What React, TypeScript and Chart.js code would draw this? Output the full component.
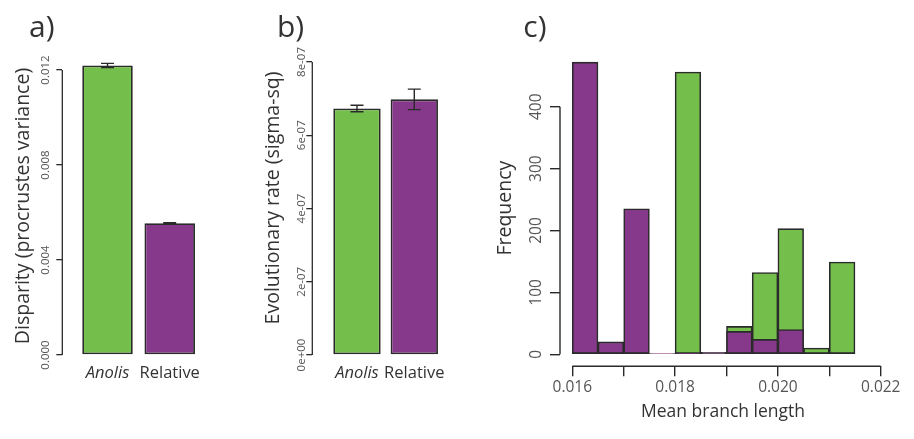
import React, { useEffect, useRef } from "react";
import { Chart, registerables } from "chart.js";

Chart.register(...registerables);

const FONT = "'Open Sans', 'Noto Sans', sans-serif";
const GREEN = "#74BE4B";
const PURPLE = "#86398A";
const EDGE = "#2a2a2a";
const TEXT = "#333333";
const TICKTEXT = "#555555";

// ---- Panel a: disparity ----
const groupLabels = ["Anolis", "Relative"];
const disparityMeans = [0.01219, 0.00555];
const disparityErrors = [0.00009, 0.00002];
const disparityTicks = [0, 0.004, 0.008, 0.012];
const disparityTickLabels = ["0.000", "0.004", "0.008", "0.012"];

// ---- Panel b: evolutionary rate ----
const rateMeans = [6.73e-7, 6.98e-7];
const rateErrors = [0.09e-7, 0.28e-7];
const rateTicks = [0, 2e-7, 4e-7, 6e-7, 8e-7];
const rateTickLabels = ["0e+00", "2e-07", "4e-07", "6e-07", "8e-07"];

// ---- Panel c: histogram of mean branch length ----
const binStarts = [0.016, 0.0165, 0.017, 0.0175, 0.018, 0.0185, 0.019, 0.0195, 0.02, 0.0205, 0.021];
const binWidth = 0.0005;
const anolisCounts = [0, 0, 0, 0, 456, 0, 45, 132, 203, 10, 149];
const relativeCounts = [472, 20, 235, 1, 1, 3, 37, 24, 40, 0, 0];
const freqTicks = [0, 100, 200, 300, 400];
const freqTickLabels = ["0", "100", "200", "300", "400"];
const branchTicks = [0.016, 0.017, 0.018, 0.019, 0.02, 0.021, 0.022];
const branchTickLabels = ["0.016", "", "0.018", "", "0.020", "", "0.022"];

function textWidth(text: string, font: string) {
  const c = document.createElement("canvas").getContext("2d")!;
  c.font = font;
  return c.measureText(text).width;
}

function widest(labels: string[], size: number) {
  return Math.max(...labels.map((l) => textWidth(l, `${size}px ${FONT}`)));
}

const rAxisPlugin = {
  id: "rAxis",
  afterDraw(chart: any, _args: any, opts: any) {
    const ctx = chart.ctx;
    ctx.save();
    ctx.strokeStyle = EDGE;
    ctx.lineWidth = opts.lineWidth || 1.2;
    (opts.axes || []).forEach((id: string) => {
      const s = chart.scales[id];
      const t = s.ticks;
      if (!t.length) return;
      const p0 = s.getPixelForValue(t[0].value);
      const p1 = s.getPixelForValue(t[t.length - 1].value);
      ctx.beginPath();
      if (s.isHorizontal()) {
        ctx.moveTo(p0, s.top);
        ctx.lineTo(p1, s.top);
      } else {
        ctx.moveTo(s.right, p0);
        ctx.lineTo(s.right, p1);
      }
      ctx.stroke();
    });
    if (opts.label) {
      ctx.fillStyle = TEXT;
      ctx.font = `30px ${FONT}`;
      ctx.textAlign = "left";
      ctx.textBaseline = "alphabetic";
      ctx.fillText(opts.label, opts.labelX, opts.labelY);
    }
    ctx.restore();
  },
};

const errorBarPlugin = {
  id: "errorBars",
  afterDatasetsDraw(chart: any, _args: any, opts: any) {
    const ctx = chart.ctx;
    const y = chart.scales.y;
    const meta = chart.getDatasetMeta(0);
    const cap = opts.cap || 13;
    ctx.save();
    ctx.strokeStyle = EDGE;
    ctx.lineWidth = 1.4;
    meta.data.forEach((bar: any, i: number) => {
      const m = opts.means[i];
      const e = opts.errors[i];
      const x = bar.x;
      const yTop = y.getPixelForValue(m + e);
      const yBot = y.getPixelForValue(m - e);
      ctx.beginPath();
      ctx.moveTo(x, yTop);
      ctx.lineTo(x, yBot);
      ctx.moveTo(x - cap / 2, yTop);
      ctx.lineTo(x + cap / 2, yTop);
      ctx.moveTo(x - cap / 2, yBot);
      ctx.lineTo(x + cap / 2, yBot);
      ctx.stroke();
    });
    ctx.restore();
  },
};

type BarPanel = {
  means: number[];
  errors: number[];
  yTicks: number[];
  yTickLabels: string[];
  yMax: number;
  xMin: number;
  xMax: number;
  barPct: number;
  title: string;
  label: string;
  labelX: number;
  tickOffset: number;
  padRight: number;
  top: number;
};

function barConfig(p: BarPanel): any {
  const tickSize = 11.5;
  const tl = 6;
  const w = widest(p.yTickLabels, tickSize);
  return {
    type: "bar",
    data: {
      datasets: [
        {
          data: p.means.map((v, i) => ({ x: i, y: v })),
          backgroundColor: [GREEN, PURPLE],
          borderColor: EDGE,
          borderWidth: 1.8,
          borderSkipped: false,
          barPercentage: p.barPct,
          categoryPercentage: 1,
        },
      ],
    },
    options: {
      responsive: false,
      animation: false,
      layout: { padding: { left: 0, right: p.padRight, top: p.top, bottom: 0 } },
      plugins: {
        legend: { display: false },
        tooltip: { enabled: false },
        rAxis: { axes: ["y"], lineWidth: 1.3, label: p.label, labelX: p.labelX, labelY: 37 },
        errorBars: { means: p.means, errors: p.errors, cap: 13 },
      },
      scales: {
        x: {
          type: "linear",
          offset: false,
          min: p.xMin,
          max: p.xMax,
          grid: { display: false, offset: false, drawTicks: false, tickLength: 0 },
          border: { display: false },
          afterBuildTicks: (s: any) => {
            s.ticks = groupLabels.map((_, i) => ({ value: i }));
          },
          afterFit: (s: any) => {
            s.height = 84;
          },
          ticks: {
            autoSkip: false,
            maxRotation: 0,
            padding: 8,
            color: TEXT,
            font: (ctx: any) => ({
              family: FONT,
              size: 16.5,
              style: ctx.index === 0 ? "italic" : "normal",
            }),
            callback: (_v: any, i: number) => groupLabels[i],
          },
        },
        y: {
          type: "linear",
          min: 0,
          max: p.yMax,
          grid: { drawOnChartArea: false, drawTicks: true, tickLength: tl, color: EDGE, lineWidth: 1.3 },
          border: { display: false },
          afterBuildTicks: (s: any) => {
            s.ticks = p.yTicks.map((v) => ({ value: v }));
          },
          afterFit: (s: any) => {
            s.width = 62.3;
          },
          ticks: {
            autoSkip: false,
            minRotation: 90,
            maxRotation: 90,
            crossAlign: "center",
            padding: p.tickOffset - tl - w / 2,
            color: TICKTEXT,
            font: { family: FONT, size: tickSize },
            callback: (_v: any, i: number) => p.yTickLabels[i],
          },
          title: {
            display: true,
            text: p.title,
            color: TEXT,
            font: { family: FONT, size: 19.5 },
            padding: { top: 11.3, bottom: 0 },
          },
        },
      },
    },
    plugins: [rAxisPlugin, errorBarPlugin],
  };
}

function histConfig(): any {
  const tickSize = 15.5;
  const tl = 10;
  const w = widest(freqTickLabels, tickSize);
  const centers = binStarts.map((b) => b + binWidth / 2);
  return {
    type: "bar",
    data: {
      datasets: [
        {
          label: "Anolis",
          data: centers.map((c, i) => ({ x: c, y: anolisCounts[i] })),
          backgroundColor: GREEN,
          borderColor: EDGE,
          borderWidth: 1.6,
          borderSkipped: false,
          grouped: false,
          order: 2,
          barPercentage: 1,
          categoryPercentage: 1,
        },
        {
          label: "Relative",
          data: centers.map((c, i) => ({ x: c, y: relativeCounts[i] })),
          backgroundColor: PURPLE,
          borderColor: EDGE,
          borderWidth: 1.6,
          borderSkipped: false,
          grouped: false,
          order: 1,
          barPercentage: 1,
          categoryPercentage: 1,
        },
      ],
    },
    options: {
      responsive: false,
      animation: false,
      layout: { padding: { left: 0, right: 28, top: 50, bottom: 16.5 } },
      plugins: {
        legend: { display: false },
        tooltip: { enabled: false },
        rAxis: { axes: ["x", "y"], lineWidth: 1.4, label: "c)", labelX: 43.3, labelY: 37 },
      },
      scales: {
        x: {
          type: "linear",
          offset: false,
          min: 0.015761,
          max: 0.022103,
          grid: { drawOnChartArea: false, offset: false, drawTicks: true, tickLength: tl, color: EDGE, lineWidth: 1.4 },
          border: { display: false },
          afterBuildTicks: (s: any) => {
            s.ticks = branchTicks.map((v) => ({ value: v }));
          },
          afterFit: (s: any) => {
            s.height = 439 - 16.5 - 366.3;
          },
          ticks: {
            autoSkip: false,
            maxRotation: 0,
            padding: 2.4,
            color: TICKTEXT,
            font: { family: FONT, size: tickSize },
            callback: (_v: any, i: number) => branchTickLabels[i],
          },
          title: {
            display: true,
            text: "Mean branch length",
            color: TEXT,
            font: { family: FONT, size: 17.5 },
            padding: { top: 0, bottom: 0 },
          },
        },
        y: {
          type: "linear",
          min: -19.4,
          max: 491.6,
          grid: { drawOnChartArea: false, drawTicks: true, tickLength: tl, color: EDGE, lineWidth: 1.4 },
          border: { display: false },
          afterBuildTicks: (s: any) => {
            s.ticks = freqTicks.map((v) => ({ value: v }));
          },
          afterFit: (s: any) => {
            s.width = 80;
          },
          ticks: {
            autoSkip: false,
            minRotation: 90,
            maxRotation: 90,
            crossAlign: "center",
            padding: 23 - tl - w / 2,
            color: TICKTEXT,
            font: { family: FONT, size: tickSize },
            callback: (_v: any, i: number) => freqTickLabels[i],
          },
          title: {
            display: true,
            text: "Frequency",
            color: TEXT,
            font: { family: FONT, size: 19.5 },
            padding: { top: 13.3, bottom: 0 },
          },
        },
      },
    },
    plugins: [rAxisPlugin],
  };
}

function Panel({ width, left, config }: { width: number; left: number; config: () => any }) {
  const ref = useRef<HTMLCanvasElement | null>(null);
  useEffect(() => {
    if (!ref.current) return;
    const chart = new Chart(ref.current, config());
    return () => chart.destroy();
  }, []);
  return (
    <canvas
      ref={ref}
      width={width}
      height={439}
      style={{ position: "absolute", left, top: 0, width, height: 439 }}
    />
  );
}

export default function App() {
  return (
    <div style={{ position: "absolute", left: 0, top: 0, width: 914, height: 439, background: "#fff" }}>
      <Panel
        width={250}
        left={0}
        config={() =>
          barConfig({
            means: disparityMeans,
            errors: disparityErrors,
            yTicks: disparityTicks,
            yTickLabels: disparityTickLabels,
            yMax: 0.012547,
            xMin: -0.7267,
            xMax: 1.969,
            barPct: 0.812,
            title: "Disparity (procrustes variance)",
            label: "a)",
            labelX: 29,
            tickOffset: 17,
            padRight: 20,
            top: 57,
          })
        }
      />
      <Panel
        width={230}
        left={250}
        config={() =>
          barConfig({
            means: rateMeans,
            errors: rateErrors,
            yTicks: rateTicks,
            yTickLabels: rateTickLabels,
            yMax: 8.573e-7,
            xMin: -0.78,
            xMax: 1.798,
            barPct: 0.827,
            title: "Evolutionary rate (sigma-sq)",
            label: "b)",
            labelX: 27,
            tickOffset: 11,
            padRight: 20,
            top: 41,
          })
        }
      />
      <Panel width={434} left={480} config={histConfig} />
    </div>
  );
}
